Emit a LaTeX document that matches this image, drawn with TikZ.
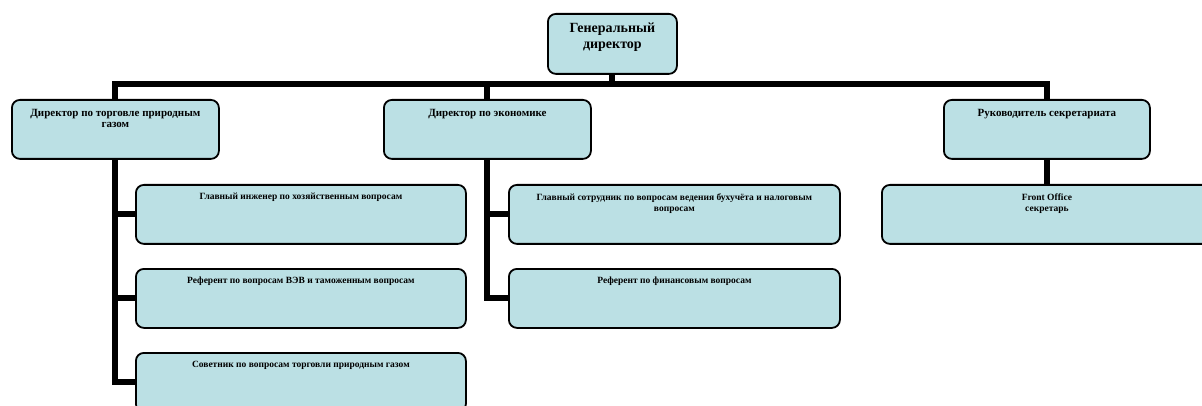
\documentclass[tikz,border=0pt]{standalone}
\usepackage{fontspec}
\setmainfont{Liberation Serif}
\definecolor{boxfill}{RGB}{187,224,228}
\tikzset{
  orgbox/.style={draw=black, line width=1.8pt, rounded corners=8pt, fill=boxfill, inner sep=0pt, anchor=north west},
  conn/.style={draw=black, line width=6pt, line join=miter}
}
\newcommand{\bx}[4]{\parbox[c][#2pt][t]{#1pt}{\centering\vspace*{#3pt}\bfseries #4\par}}
\begin{document}
\begin{tikzpicture}[x=1pt,y=-1pt]
\clip (0,0) rectangle (1202,406);
\fill[white] (0,0) rectangle (1202,406);
% top
\node[orgbox] (g) at (547,13) {\bx{129}{60}{9}{\fontsize{14}{16}\selectfont Генеральный\\директор}};
% level 1
\node[orgbox] (a) at (11,99) {\bx{207}{59}{9}{\fontsize{11}{11.5}\selectfont Директор по торговле природным\\газом}};
\node[orgbox] (b) at (383,99) {\bx{207}{59}{9}{\fontsize{11}{11.5}\selectfont Директор по экономике}};
\node[orgbox] (c) at (943,99) {\bx{206}{59}{9}{\fontsize{11}{11.5}\selectfont Руководитель секретариата}};
% children left
\node[orgbox] (a1) at (135,184) {\bx{330}{59}{8.5}{\fontsize{9.5}{11}\selectfont Главный инженер по хозяйственным вопросам}};
\node[orgbox] (a2) at (135,268) {\bx{330}{59}{8.5}{\fontsize{9.5}{11}\selectfont Референт по вопросам ВЭВ и таможенным вопросам}};
\node[orgbox] (a3) at (135,352) {\bx{330}{59}{8.5}{\fontsize{9.5}{11}\selectfont Советник по вопросам торговли природным газом}};
% children middle
\node[orgbox] (b1) at (508,184) {\bx{331}{59}{8.5}{\fontsize{9.5}{11}\selectfont Главный сотрудник по вопросам ведения бухучёта и налоговым\\вопросам}};
\node[orgbox] (b2) at (508,268) {\bx{331}{59}{8.5}{\fontsize{9.5}{11}\selectfont Референт по финансовым вопросам}};
% child right
\node[orgbox] (c1) at (881,184) {\bx{330}{59}{8.5}{\fontsize{9.5}{11}\selectfont Front Office\\секретарь}};
% connectors
\coordinate (bus) at (0,84);
\draw[conn] (g.south) -- (g.south |- bus);
\draw[conn] (a.north) -- (a.north |- bus) -- (c.north |- bus) -- (c.north);
\draw[conn] (b.north) -- (b.north |- bus);
\draw[conn] (a.south) |- (a1.west);
\draw[conn] (a.south) |- (a2.west);
\draw[conn] (a.south) |- (a3.west);
\draw[conn] (b.south) |- (b1.west);
\draw[conn] (b.south) |- (b2.west);
\draw[conn] (c.south) -- (c1.north);
\end{tikzpicture}
\end{document}
